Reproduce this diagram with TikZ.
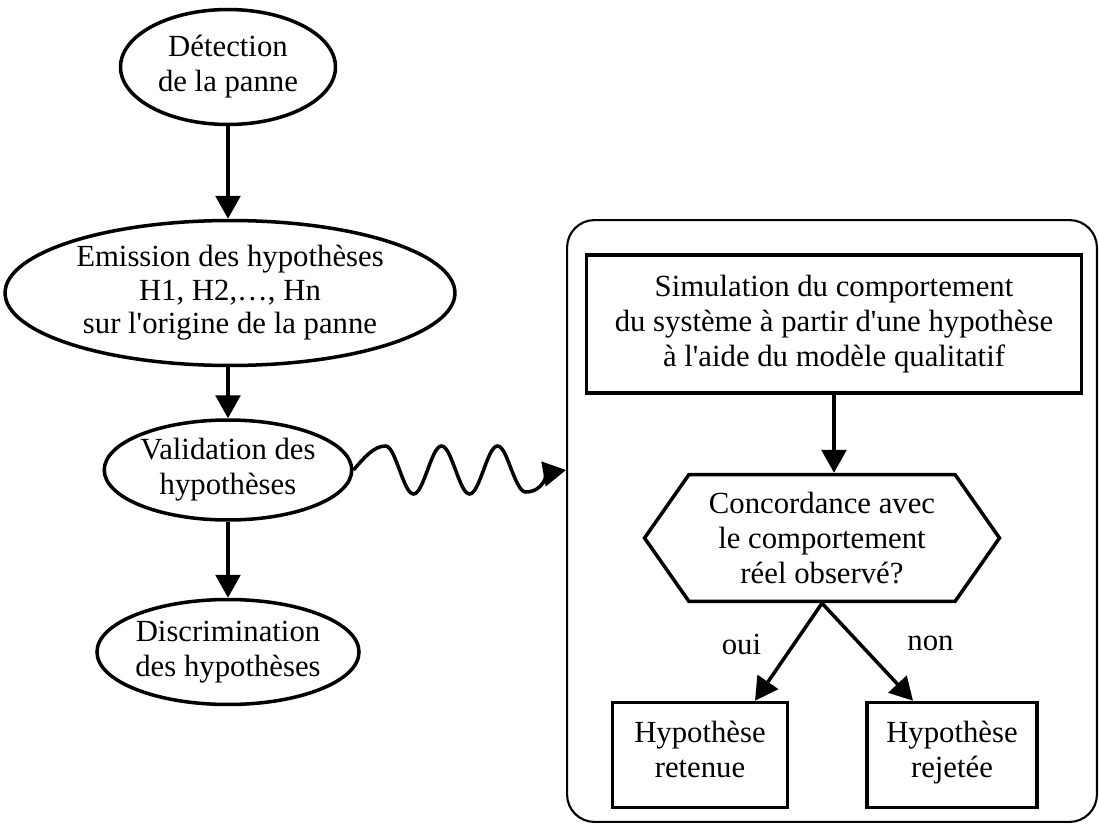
\documentclass[tikz,border=0pt]{standalone}
\usepackage{fontspec}
\setmainfont{Liberation Serif}[Ligatures=TeXOff]
\usetikzlibrary{positioning, shapes.geometric, shapes.symbols, arrows.meta}
\tikzset{>={Triangle[length=13pt,width=14pt]}}
\tikzset{
    event/.style = {ellipse, draw, line width=2pt, inner sep=0pt, align=center},
    process/.style = {rectangle, draw, line width=2pt, align=center},
    test/.style = {signal, signal to=west and east, signal pointer angle=110, draw,
                        line width=2pt, align=center, minimum width=7.1cm, minimum height=2.54cm},
    group/.style = {rectangle, draw, line width=1.2pt, rounded corners=0.55cm},
    link/.style = {->, line width=2pt}
}

\begin{document}
\begin{tikzpicture}[x=0.02cm, y=-0.02cm]
			\tikzstyle{every node}=[font=\fontsize{17.5}{20}\selectfont]
			\useasboundingbox (0,0) rectangle (1099,834);
			% left column
			\node (det) [event, minimum width=4.3cm, minimum height=2.3cm] at (228,67) {Détection\\de la panne};
			\node (emi) [event, minimum width=9.0cm, minimum height=2.9cm, font=\fontsize{17.5}{19}\selectfont] at (230,293) {Emission des hypothèses\\H1, H2,\ldots, Hn\\sur l'origine de la panne};
			\node (val) [event, minimum width=4.3cm, minimum height=2.0cm] at (228,470) {Validation des\\hypothèses};
			\node (dis) [event, minimum width=4.3cm, minimum height=2.1cm] at (228,652) {Discrimination\\des hypothèses};
			\draw [link] (det) -- (det |- emi.north);
			\draw [link] (det |- emi.south) -- (val);
			\draw [link] (val) -- (dis);
			% right block
			\node (frame) [group, minimum width=10.6cm, minimum height=12.04cm] at (832,521) {};
			\node (sim) [process, minimum width=9.9cm, minimum height=2.76cm] at (834,324) {Simulation du comportement\\du système à partir d'une hypothèse\\à l'aide du modèle qualitatif};
			\node (concord) [test] at (822,538) {Concordance avec\\le comportement\\réel observé?};
			\node (ret) [process, minimum width=3.5cm, minimum height=2.1cm] at (700,755) {Hypothèse\\retenue\strut};
			\node (rej) [process, minimum width=3.4cm, minimum height=2.1cm] at (952,755) {Hypothèse\\rejetée\strut};
			\draw [link] (sim.south) -- (sim.south |- concord.north);
			\draw [link] (concord.south) to node[xshift=-0.94cm, yshift=0.16cm] {oui} ([xshift=1.1cm]ret.north);
			\draw [link] (concord.south) to node[xshift=1.26cm, yshift=0.18cm] {non} ([xshift=-0.78cm]rej.north);
			% wavy link
			\draw [link] (val.east) sin ++(32,-24) cos ++(14,24) sin ++(14,24) cos ++(14,-24)
				sin ++(14,-24) cos ++(14,24) sin ++(14,24) cos ++(14,-24)
				sin ++(14,-24) cos ++(14,24) sin ++(14,22) to[out=0,in=190] (val.east -| frame.west);
		\end{tikzpicture}
\end{document}
